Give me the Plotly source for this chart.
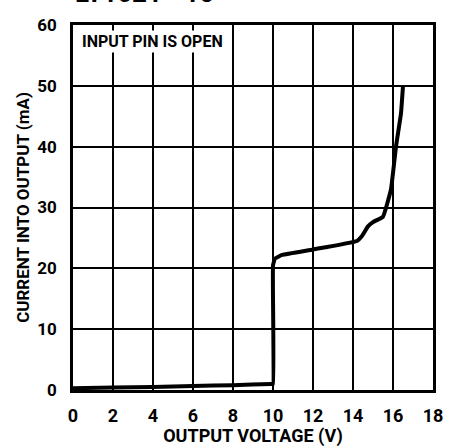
import plotly.graph_objects as go

# Output current vs. output voltage, input pin open
voltage = [0.0, 2.0, 4.0, 6.0, 8.0, 9.9, 10.0, 10.0, 10.1, 10.45, 12.0, 14.2, 14.45,
           14.75, 15.0, 15.5, 15.9, 16.15, 16.4, 16.5]
current = [0.3, 0.4, 0.5, 0.65, 0.8, 1.0, 1.0, 20.5, 21.6, 22.2, 23.1, 24.5, 25.3,
           26.9, 27.6, 28.5, 33.0, 40.0, 45.5, 50.0]

x_ticks = [0, 2, 4, 6, 8, 10, 12, 14, 16, 18]
y_ticks = [0, 10, 20, 30, 40, 50, 60]

FONT = "Roboto, Liberation Sans, sans-serif"

fig = go.Figure()
fig.add_trace(go.Scatter(
    x=voltage, y=current, mode="lines",
    line=dict(color="black", width=4, shape="spline", smoothing=0.3),
    hoverinfo="skip", showlegend=False,
))

axis_common = dict(
    showgrid=True, gridcolor="black", gridwidth=1.5,
    showline=True, linecolor="black", linewidth=2.5, mirror=True,
    zeroline=False, ticks="", fixedrange=True,
)

fig.update_xaxes(
    range=[0, 18], tickvals=x_ticks, ticktext=[str(v) for v in x_ticks],
    tickfont=dict(family=FONT, size=18, color="black", weight="bold"),
    title=dict(text="OUTPUT VOLTAGE (V)",
               font=dict(family=FONT, size=18, color="black", weight="bold"), standoff=0),
    ticklabelstandoff=8,
    **axis_common,
)
fig.update_yaxes(
    range=[0, 60], tickvals=y_ticks, ticktext=[str(v) for v in y_ticks],
    tickfont=dict(family=FONT, size=17, color="black", weight="bold"),
    title=dict(text="CURRENT INTO OUTPUT (mA)",
               font=dict(family=FONT, size=17, color="black", weight="bold"), standoff=4),
    ticklabelstandoff=10,
    **axis_common,
)

fig.add_annotation(
    xref="paper", yref="paper", x=0.02, y=0.985, xanchor="left", yanchor="top",
    text="INPUT PIN IS OPEN", showarrow=False,
    font=dict(family=FONT, size=16, color="black", weight="bold"), bgcolor="white",
)
# figure caption along the top edge
fig.add_annotation(
    xref="paper", yref="paper", x=0.0, y=1.04, xanchor="left", yanchor="bottom",
    text="LT1021 • 15", showarrow=False,
    font=dict(family=FONT, size=26, color="black", weight="bold"),
)

fig.update_layout(
    width=451, height=447,
    margin=dict(l=73, r=8, t=25, b=53),
    paper_bgcolor="white", plot_bgcolor="white",
    font=dict(family=FONT, color="black"),
)

fig.write_html("out.html")
